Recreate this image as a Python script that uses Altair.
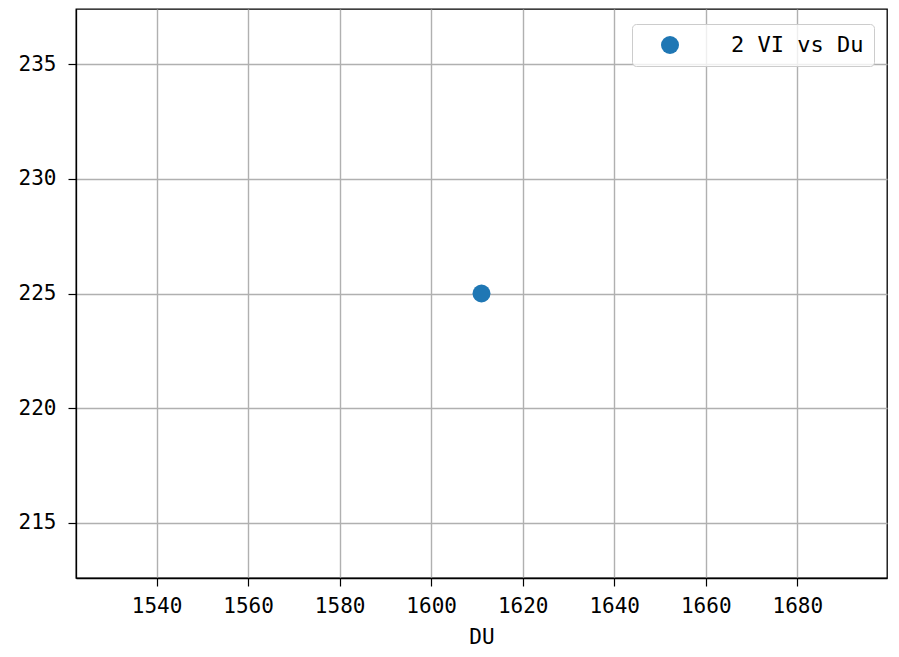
import altair as alt
import pandas as pd

du_values = [1611]
vi_values = [225]
series = ["2 VI vs Du"]

x_ticks = [1540, 1560, 1580, 1600, 1620, 1640, 1660, 1680]
y_ticks = [215, 220, 225, 230, 235]

df = pd.DataFrame({"DU": du_values, "VI": vi_values, "series": series})

FONT = "DejaVu Sans Mono"
FS = 21

chart = alt.Chart(df).mark_point(filled=True, opacity=1, size=324, shape="circle").encode(
    x=alt.X("DU:Q", title="DU",
            scale=alt.Scale(domain=[1522.4, 1699.6], nice=False, zero=False),
            axis=alt.Axis(values=x_ticks, format="d", grid=True, gridColor="#b0b0b0",
                          gridWidth=1.4, domainColor="black", domainWidth=1.3,
                          tickColor="black", tickSize=8, tickWidth=1.2,
                          labelFont=FONT, labelFontSize=FS, labelColor="black",
                          labelPadding=9, titleFont=FONT, titleFontSize=FS,
                          titleFontWeight="normal", titleColor="black", titlePadding=10)),
    y=alt.Y("VI:Q", title=None,
            scale=alt.Scale(domain=[212.6, 237.4], nice=False, zero=False),
            axis=alt.Axis(values=y_ticks, format="d", grid=True, gridColor="#b0b0b0",
                          gridWidth=1.4, domainColor="black", domainWidth=1.3,
                          tickColor="black", tickSize=8, tickWidth=1.2,
                          labelFont=FONT, labelFontSize=FS, labelColor="black",
                          labelPadding=12)),
    color=alt.Color("series:N", scale=alt.Scale(range=["#1f77b4"]),
                    legend=alt.Legend(title=None, orient="none", legendX=556, legendY=15,
                                      labelFont=FONT, labelFontSize=22, labelColor="black",
                                      symbolType="circle", symbolSize=324,
                                      symbolStrokeWidth=0, symbolOpacity=1,
                                      padding=10, symbolOffset=17, labelOffset=50,
                                      strokeColor="#cccccc", fillColor="rgba(255,255,255,0.8)",
                                      cornerRadius=4)),
).properties(
    width=811, height=569,
    padding={"left": 68, "top": 1, "right": 4, "bottom": 71},
    autosize=alt.AutoSizeParams(type="none"),
).configure_view(
    stroke="black", strokeWidth=1.3
)

chart.save("out.html", embed_options={"renderer": "svg", "actions": False})
